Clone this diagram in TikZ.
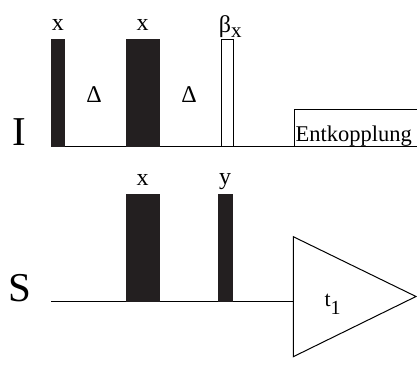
\documentclass[tikz,border=0pt]{standalone}
\usepackage{fontspec}
\setmainfont{Liberation Serif}
\usetikzlibrary{positioning,calc}
\definecolor{pk}{HTML}{231F20}

\begin{document}
\begin{tikzpicture}[x=1pt,y=1pt,line width=1pt,
  pulse/.style={draw=pk,fill=pk,line width=0.6pt,inner sep=0,anchor=south west,minimum height=107pt},
  openpulse/.style={pulse,fill=white,draw=black},
  lbl/.style={inner sep=0,text depth=0pt,font=\fontsize{24}{24}\selectfont},
  chan/.style={inner sep=0,anchor=base,font=\fontsize{41}{41}\selectfont}]
  \useasboundingbox (0,0) rectangle (417,367);
  % I channel
  \coordinate (I0) at (51,220.3);\coordinate (I1) at (418,220.3);
  \node[chan] (Ilab) at (19,221.3) {I};
  \draw (I0) -- (I1);
  \node[pulse,minimum width=13.3pt] (Ix1) at (51,220.3) {};
  \node[pulse,minimum width=32.8pt] (Ix2) at (126,220.3) {};
  \node[openpulse,minimum width=12.3pt] (Ib) at (220.7,220.3) {};
  \node[lbl,above=7.7pt of Ix1] (Ix1lab) {x};
  \node[lbl,above=7.7pt of Ix2] (Ix2lab) {x};
  \node[lbl,above=6pt of Ib,xshift=3pt] (Iblab) {β\raisebox{-5pt}{\fontsize{21}{21}\selectfont x}};
  \node[font=\fontsize{24}{24}\selectfont,inner sep=0] (d1) at (94,272) {Δ};
  \node[font=\fontsize{24}{24}\selectfont,inner sep=0] (d2) at (189,272) {Δ};
  \node[draw,inner sep=0,anchor=south west,minimum width=123pt,minimum height=36.7pt] (dec) at (294,220.3) {};
  \node[font=\fontsize{22.5}{22.5}\selectfont,inner sep=0,anchor=base west] (declab) at (295,225.3) {Entkopplung};
  % S channel
  \coordinate (S0) at (51,65.7);
  \coordinate (Ta) at (293.3,130.3);\coordinate (Tb) at (416,70.5);\coordinate (Tc) at (293.3,10.3);
  \coordinate (S1) at (293.3,65.7);
  \node[chan] (Slab) at (20,66) {S};
  \draw (S0) -- (S1);
  \node[pulse,minimum width=32.8pt] (Sx) at (126,65.7) {};
  \node[pulse,minimum width=13.5pt] (Sy) at (218,65.7) {};
  \node[lbl,above=7.7pt of Sx] (Sxlab) {x};
  \node[lbl,above=9pt of Sy] (Sylab) {y};
  \draw (Ta) -- (Tb) -- (Tc) -- cycle;
  \node[font=\fontsize{22}{22}\selectfont,inner sep=0,anchor=base west] (tlab) at (324,60.3) {t\raisebox{-8pt}{\fontsize{20}{20}\selectfont 1}};
\end{tikzpicture}
\end{document}
